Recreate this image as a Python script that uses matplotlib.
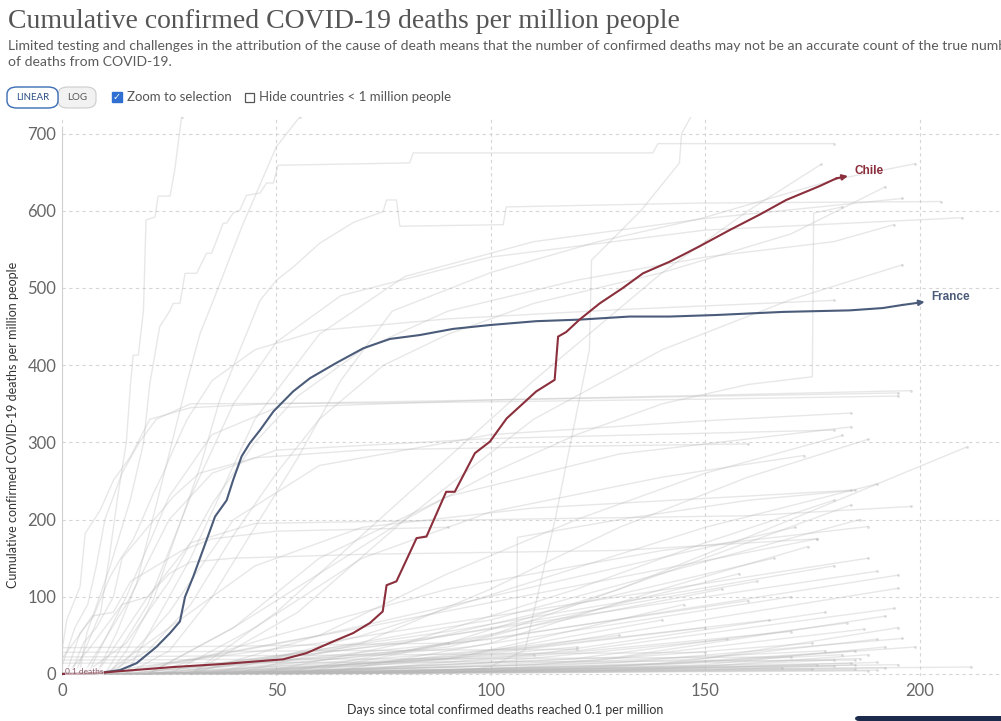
import matplotlib.pyplot as plt
from matplotlib.patches import FancyBboxPatch, Rectangle

# highlighted countries (days since 0.1 deaths/million, deaths per million)
france_days = [0, 7.7, 13.5, 17.4, 22, 25.2, 27.5, 28.7, 30.6, 32.9, 35.7, 38.4, 39.9, 41.9,
               43.8, 46.2, 49.3, 53.9, 57.8, 64, 70.3, 76.5, 83.4, 91.2, 99.8, 110.6, 120.7,
               132.4, 141.7, 152.6, 168.1, 183.7, 191.4, 196, 201.2]
france_vals = [0.1, 0.5, 5, 14, 35, 53, 68, 100, 126, 161, 204, 225, 251, 282,
               299, 316, 340, 366, 383, 403, 422, 434, 439, 447, 452, 457, 459,
               463, 463, 465, 469, 471, 474, 478, 482]

chile_days = [0, 7.7, 14.3, 25.9, 37.6, 44.6, 51.6, 57, 63.2, 67.9, 71.8, 74.8, 75.7, 78,
              82.7, 85, 89.6, 91.6, 96.3, 99.8, 103.7, 110.6, 114.9, 115.7, 117.6, 120.7,
              125.4, 130.8, 135.5, 141.7, 148.7, 155.7, 162.7, 168.9, 176.7, 180.6, 183.3]
chile_vals = [0.1, 1, 4, 9, 13, 16, 19, 27, 42, 53, 66, 81, 115, 120,
              176, 178, 236, 236, 286, 301, 331, 366, 381, 437, 443, 459,
              480, 500, 519, 534, 554, 575, 595, 614, 632, 642, 645]

# other countries, steep early risers (day, value)
steep_lines = [
    [[3, 0], [6, 40], [9, 80], [11, 150], [13, 230], [15, 300], [16, 377], [16.6, 413],
     [17.8, 413], [19, 471], [19.6, 588], [21.7, 592], [22.4, 619], [25.2, 619],
     [26.3, 653], [27.9, 722]],
    [[4, 0], [5.8, 53], [11.2, 139], [15.9, 225], [19, 299], [20.5, 377], [22.8, 450],
     [25.2, 471], [25.9, 480], [27.5, 480], [28.7, 519], [31.4, 519], [33.7, 545],
     [34.9, 545], [37.6, 584], [38.4, 584], [39.9, 597], [41.5, 601], [43, 620],
     [46.2, 623], [47.7, 636], [49.3, 636], [50.4, 659], [81.1, 662], [81.9, 675],
     [137.8, 675], [139, 687], [180, 687]],
    [[8, 0], [12.7, 53], [17.4, 117], [21.3, 204], [25.2, 290], [29.1, 377], [32.2, 441],
     [35.3, 484], [42, 580], [50, 683], [55.5, 722]],
    [[11, 0], [15.1, 31], [21.3, 96], [26.7, 182], [32.2, 268], [36.8, 355], [41.5, 420],
     [46.2, 484], [50, 510], [53.9, 527], [60.1, 558], [68, 585], [74.9, 599],
     [75.7, 614], [78, 614], [78.8, 580], [102.9, 582], [103.6, 605], [148.7, 610],
     [205, 612]],
    [[0, 30], [1.1, 70], [4.2, 113], [5.4, 182], [8.9, 212], [12, 251], [15.9, 281],
     [20.5, 330], [30, 345], [48, 350], [100, 355], [142, 360], [198, 367]],
    [[1, 0], [4.2, 53], [7.3, 74], [8.9, 96], [11.2, 126], [13.5, 148], [16.6, 174],
     [19, 204], [21.3, 234], [23.6, 260], [25.9, 290], [29.1, 329], [35, 380],
     [45, 420], [60, 445], [90, 460], [130, 472], [180, 484]],
    [[0, 10], [3, 60], [6, 90], [8, 140], [10, 200], [14, 260], [18, 300], [22, 330],
     [30, 350], [76, 351], [150, 356], [195, 360]],
    [[2, 0], [5, 40], [8, 60], [12, 100], [14, 150], [20, 190], [26, 230], [32, 260],
     [45, 280], [70, 290], [120, 295], [160, 298]],
    [[0, 20], [4, 50], [7, 75], [12, 80], [16, 120], [22, 140], [28, 160], [35, 175],
     [50, 185], [90, 190]],
    [[1, 0], [6, 30], [10, 60], [14, 90], [20, 100], [25, 130], [30, 145], [40, 150],
     [70, 155], [130, 160], [176, 175]],
    [[90, 0], [100, 10], [108, 31], [115, 200], [123, 420], [123.5, 536], [135, 600],
     [144, 662], [144.5, 700], [147, 725]],
    [[20, 0], [40, 60], [60, 130], [80, 200], [100, 260], [120, 310], [140, 350],
     [160, 375], [175, 385], [175.3, 597], [182, 605]],
    [[30, 0], [60, 2], [90, 4], [106, 5], [106.2, 177], [130, 200], [160, 225], [185, 238]],
]

# other countries, mid-level curves
mid_lines = [
    [[12, 0], [25, 80], [40, 200], [60, 270], [100, 310], [150, 328], [184, 338]],
    [[20, 0], [40, 60], [60, 150], [90, 230], [130, 285], [184, 320]],
    [[5, 0], [15, 90], [25, 200], [35, 260], [50, 290], [100, 305], [180, 316]],
    [[30, 0], [60, 50], [90, 130], [120, 200], [150, 260], [182, 309]],
    [[40, 0], [70, 40], [100, 110], [130, 190], [160, 255], [188, 304]],
    [[50, 0], [90, 40], [130, 110], [170, 200], [211, 294]],
    [[6, 0], [15, 100], [25, 230], [35, 310], [50, 345], [100, 355], [195, 364]],
    [[25, 0], [45, 60], [70, 150], [100, 210], [140, 255], [173, 283]],
    [[35, 0], [70, 50], [110, 120], [150, 190], [190, 246]],
    [[10, 0], [25, 60], [45, 140], [70, 190], [110, 215], [184, 238]],
    [[45, 0], [80, 40], [120, 110], [150, 170], [180, 225]],
    [[55, 0], [100, 50], [140, 130], [184, 219]],
    [[8, 0], [20, 100], [30, 170], [45, 195], [100, 200], [160, 205], [198, 217]],
    [[20, 0], [50, 50], [90, 110], [140, 160], [188, 191]],
    [[60, 0], [100, 40], [140, 110], [174, 165]],
    [[30, 0], [55, 80], [80, 200], [110, 330], [140, 420], [170, 485], [196, 530]],
    [[5, 0], [15, 40], [25, 120], [35, 220], [45, 300], [55, 360], [70, 420], [90, 470],
     [120, 510], [150, 540], [180, 560], [194, 582]],
    [[10, 0], [20, 30], [30, 90], [40, 180], [50, 260], [60, 330], [75, 400], [90, 440],
     [110, 480], [140, 520], [170, 570], [192, 631]],
    [[15, 0], [25, 30], [35, 100], [45, 190], [55, 280], [65, 380], [77, 470], [100, 520],
     [125, 560], [149, 590], [180, 640], [199, 661]],
    [[30, 0], [50, 80], [80, 230], [110, 380], [140, 520], [160, 600], [177, 660]],
    [[10, 0], [20, 90], [30, 230], [40, 350], [50, 430], [65, 490], [100, 540],
     [150, 575], [210, 591]],
    [[15, 0], [30, 150], [45, 330], [60, 440], [80, 515], [110, 560], [150, 590],
     [196, 616]],
]

# other countries, low totals
low_lines = [
    [[5, 0], [60, 40], [188, 150]], [[15, 0], [90, 50], [190, 133]],
    [[20, 0], [100, 45], [195, 128]], [[25, 0], [110, 35], [195, 111]],
    [[30, 0], [120, 30], [194, 85]], [[35, 0], [130, 15], [196, 46]],
    [[40, 0], [140, 12], [199, 35]], [[10, 0], [100, 4], [212, 9]],
    [[8, 0], [90, 5], [195, 12]], [[12, 0], [80, 30], [160, 95]],
    [[18, 0], [90, 22], [165, 70]], [[22, 0], [100, 18], [170, 55]],
    [[28, 0], [110, 12], [175, 40]], [[14, 0], [100, 10], [178, 30]],
    [[32, 0], [120, 8], [182, 25]], [[6, 0], [100, 7], [186, 20]],
    [[45, 0], [130, 5], [190, 15]], [[50, 0], [120, 4], [176, 12]],
    [[3, 0], [80, 3], [168, 8]], [[38, 0], [120, 2], [185, 6]],
    [[9, 0], [100, 1.5], [188, 4]], [[26, 0], [90, 20], [150, 60]],
    [[34, 0], [100, 15], [155, 45]], [[16, 0], [80, 40], [162, 120]],
    [[24, 0], [95, 35], [170, 100]], [[36, 0], [110, 25], [178, 80]],
    [[42, 0], [120, 20], [183, 66]], [[48, 0], [125, 18], [187, 58]],
    [[44, 0], [130, 22], [192, 75]], [[20, 0], [90, 55], [180, 140]],
    [[13, 0], [70, 60], [176, 175]], [[27, 0], [100, 70], [186, 200]],
    [[11, 0], [60, 50], [171, 190]], [[23, 0], [85, 45], [166, 150]],
    [[30, 0], [90, 35], [158, 130]], [[19, 0], [80, 30], [154, 110]],
    [[40, 0], [95, 25], [145, 90]], [[33, 0], [90, 20], [140, 70]],
    [[21, 0], [75, 15], [130, 50]], [[29, 0], [70, 10], [120, 35]],
    [[37, 0], [75, 8], [110, 25]], [[0, 34], [40, 36], [90, 40]],
    [[0, 28], [60, 30], [120, 32]], [[0, 22], [80, 25], [150, 28]],
    [[0, 18], [100, 20], [170, 22]], [[0, 14], [120, 16], [185, 18]],
    [[2, 0], [60, 3], [180, 10]], [[4, 0], [70, 2], [175, 6]],
    [[7, 0], [90, 2], [190, 5]], [[15, 0], [110, 3], [192, 8]],
    [[17, 0], [100, 6], [184, 14]], [[52, 0], [130, 10], [185, 30]],
    [[58, 0], [140, 14], [190, 45]], [[62, 0], [150, 10], [188, 25]],
    [[70, 0], [150, 20], [195, 60]], [[66, 0], [140, 8], [180, 18]],
    [[75, 0], [150, 5], [185, 12]], [[80, 0], [150, 12], [192, 35]],
]

y_ticks = [0, 100, 200, 300, 400, 500, 600, 700]
x_ticks = [0, 50, 100, 150, 200]

TITLE = "Cumulative confirmed COVID-19 deaths per million people"
SUBTITLE = ("Limited testing and challenges in the attribution of the cause of death means that "
            "the number of confirmed deaths may not be an accurate count of the true number\n"
            "of deaths from COVID-19.")

FONT = "Lato"
GREY_LINE = (0.72, 0.72, 0.72)
FRANCE_C = "#4b5b7a"
CHILE_C = "#8a2f3b"

W, H = 1001, 721
fig = plt.figure(figsize=(W / 100, H / 100), dpi=100)


def fx(px):
    return px / W


def fy(py):
    return 1 - py / H


ax = fig.add_axes([fx(62), fy(676.3), fx(W - 62), (676.3 - 116.6) / H])
ax.set_xlim(0, 219)
ax.set_ylim(-3, 722)

for group in (low_lines, mid_lines, steep_lines):
    for pts in group:
        xs = [p[0] for p in pts]
        ys = [p[1] for p in pts]
        ax.plot(xs, ys, color=GREY_LINE, alpha=0.33, lw=1.0, zorder=2,
                solid_joinstyle="round")
        ax.plot(xs[-1:], ys[-1:], "o", color=GREY_LINE, alpha=0.45, ms=2.0,
                mew=0, zorder=2)


def highlight(days, vals, color, label, dy):
    ax.plot(days[:-1], vals[:-1], color=color, lw=1.5, zorder=5,
            solid_joinstyle="round")
    ax.annotate("", xy=(days[-1], vals[-1]), xytext=(days[-2], vals[-2]),
                arrowprops=dict(arrowstyle="-|>", color=color, lw=1.5,
                                mutation_scale=8, shrinkA=0, shrinkB=0), zorder=6)
    ax.text(days[-1] + 1.5, vals[-1] + dy, label, color=color, fontsize=8.5,
            fontweight="bold", family="Liberation Sans", va="center", ha="left",
            zorder=7)


highlight(france_days, france_vals, FRANCE_C, "France", 6)
highlight(chile_days, chile_vals, CHILE_C, "Chile", 6)

ax.text(0.8, 3.5, "0.1 deaths", fontsize=6, color="#8a5a66", family=FONT,
        va="center", ha="left", zorder=8,
        bbox=dict(boxstyle="square,pad=0.05", fc="white", ec="none", alpha=0.6))

ax.set_yticks(y_ticks)
ax.set_xticks(x_ticks)
ax.tick_params(length=0, labelsize=12, labelcolor="#666666")
ax.tick_params(axis="y", pad=4)
ax.tick_params(axis="x", pad=5)
for lab in ax.get_xticklabels() + ax.get_yticklabels():
    lab.set_family(FONT)
ax.grid(True, color="#d6d6d6", linestyle=(0, (3, 3)), lw=0.8, zorder=0)
for s in ("top", "right", "bottom"):
    ax.spines[s].set_visible(False)
ax.spines["left"].set_color("#d0d0d0")
ax.spines["left"].set_bounds(0, 708)

ax.set_ylabel("Cumulative confirmed COVID-19 deaths per million people",
              fontsize=9, color="#333333", family=FONT)
ax.yaxis.set_label_coords(-0.046, 0.449)
ax.set_xlabel("Days since total confirmed deaths reached 0.1 per million",
              fontsize=9, color="#333333", family=FONT)
ax.xaxis.set_label_coords(0.472, -0.05)

# header
fig.text(fx(8), fy(21), TITLE, fontsize=20, color="#555555",
         family="Liberation Serif", va="center", ha="left")
fig.text(fx(8), fy(54), SUBTITLE, fontsize=10.1, color="#5b5b5b", family=FONT,
         va="center", ha="left", linespacing=1.3)

# controls
fig.patches.append(FancyBboxPatch((fx(58), fy(108)), fx(38), (108 - 87) / H,
                                  boxstyle="round,pad=0,rounding_size=0.01",
                                  fc="#f2f2f2", ec="#cccccc", lw=0.8,
                                  transform=fig.transFigure, figure=fig))
fig.patches.append(FancyBboxPatch((fx(7), fy(108)), fx(51), (108 - 87) / H,
                                  boxstyle="round,pad=0,rounding_size=0.01",
                                  fc="white", ec="#3a6db5", lw=1.0,
                                  transform=fig.transFigure, figure=fig))
fig.text(fx(32.5), fy(98), "LINEAR", fontsize=7, color="#2d4f86", family=FONT,
         ha="center", va="center")
fig.text(fx(77), fy(98), "LOG", fontsize=7, color="#555555", family=FONT,
         ha="center", va="center")
fig.patches.append(Rectangle((fx(112), fy(102)), fx(10), 10 / H, fc="#2f6fd1",
                             ec="#2f6fd1", transform=fig.transFigure, figure=fig))
fig.text(fx(117), fy(97), "\u2713", fontsize=7, color="white", family="DejaVu Sans",
         ha="center", va="center", fontweight="bold")
fig.text(fx(127), fy(97), "Zoom to selection", fontsize=9.5, color="#555555",
         family=FONT, ha="left", va="center")
fig.patches.append(Rectangle((fx(245), fy(102)), fx(9), 9 / H, fc="white",
                             ec="#555555", lw=0.9, transform=fig.transFigure,
                             figure=fig))
fig.text(fx(259), fy(97), "Hide countries < 1 million people", fontsize=9.5,
         color="#555555", family=FONT, ha="left", va="center")

# partial button at bottom right
fig.patches.append(FancyBboxPatch((fx(855), 0), fx(160), 5 / H,
                                  boxstyle="round,pad=0,rounding_size=0.004",
                                  fc="#1c2b4b", ec="none",
                                  transform=fig.transFigure, figure=fig))

fig.savefig("out.png", dpi=100)
